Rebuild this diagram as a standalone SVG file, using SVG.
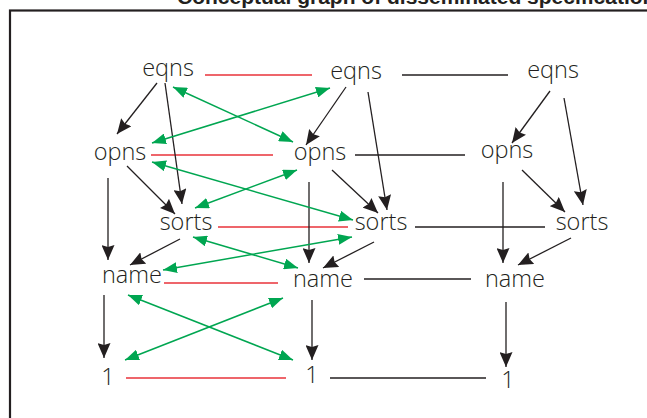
<svg xmlns="http://www.w3.org/2000/svg" width="647" height="418" viewBox="0 0 647 418">
<style>
.lbl{font-family:"Open Sans","Noto Sans","DejaVu Sans",sans-serif;font-size:23.5px;font-weight:300;fill:#231f20;text-anchor:middle}
.title{font-family:"Liberation Sans",Arial,sans-serif;font-size:21px;font-weight:bold;fill:#231f20}
.red{stroke:#e8323a;stroke-width:1.4;fill:none}
.blk{stroke:#231f20;stroke-width:1.3;fill:none}
.arr{stroke:#231f20;stroke-width:1.3;fill:none;marker-end:url(#ah)}
.grn{stroke:#00a651;stroke-width:1.5;fill:none;marker-start:url(#gh);marker-end:url(#gh)}
</style>
<defs>
<marker id="ah" markerUnits="userSpaceOnUse" viewBox="0 0 15 13" refX="15" refY="6.5" markerWidth="15" markerHeight="13" orient="auto">
<path d="M0,0 L15,6.5 L0,13 L2,6.5 z" fill="#231f20"/>
</marker>
<marker id="gh" markerUnits="userSpaceOnUse" viewBox="0 0 14 11" refX="14" refY="5.5" markerWidth="14" markerHeight="11" orient="auto-start-reverse">
<path d="M0,0 L14,5.5 L0,11 z" fill="#00a651"/>
</marker>
</defs>
<rect x="0" y="0" width="647" height="418" fill="#ffffff"/>
<text class="title" x="177" y="4">Conceptual graph of disseminated specifications</text>
<rect x="10" y="10.5" width="660" height="430" fill="none" stroke="#231f20" stroke-width="2.2"/>

<g id="connectors">
<!-- red correspondences col1-col2 -->
<line class="red" x1="205" y1="75" x2="312" y2="75"/>
<line class="red" x1="151" y1="155" x2="273" y2="155"/>
<line class="red" x1="218" y1="227" x2="348" y2="227"/>
<line class="red" x1="164" y1="283" x2="278" y2="283"/>
<line class="red" x1="126" y1="378" x2="286" y2="378"/>
<!-- black correspondences col2-col3 -->
<line class="blk" x1="402" y1="75" x2="508" y2="75"/>
<line class="blk" x1="355" y1="155" x2="465" y2="155"/>
<line class="blk" x1="415" y1="227" x2="545" y2="227"/>
<line class="blk" x1="364" y1="279" x2="471" y2="279"/>
<line class="blk" x1="330" y1="378" x2="486" y2="378"/>
<!-- column 1 arrows -->
<line class="arr" x1="157" y1="83" x2="117" y2="134"/>
<line class="arr" x1="165" y1="83" x2="182" y2="204"/>
<line class="arr" x1="127" y1="166" x2="175" y2="214"/>
<line class="arr" x1="108" y1="178" x2="108" y2="260"/>
<line class="arr" x1="180" y1="239" x2="130" y2="265"/>
<line class="arr" x1="104" y1="295" x2="104" y2="358"/>
<!-- column 2 arrows -->
<line class="arr" x1="346" y1="87" x2="306" y2="145"/>
<line class="arr" x1="368" y1="92" x2="387" y2="210"/>
<line class="arr" x1="332" y1="170" x2="378" y2="213"/>
<line class="arr" x1="309" y1="182" x2="309" y2="263"/>
<line class="arr" x1="374" y1="242" x2="323" y2="268"/>
<line class="arr" x1="312" y1="300" x2="312" y2="360"/>
<!-- column 3 arrows -->
<line class="arr" x1="550" y1="91" x2="512" y2="143"/>
<line class="arr" x1="564" y1="98" x2="583" y2="205"/>
<line class="arr" x1="522" y1="170" x2="565" y2="212"/>
<line class="arr" x1="503" y1="182" x2="503" y2="263"/>
<line class="arr" x1="571" y1="238" x2="518" y2="265"/>
<line class="arr" x1="506" y1="302" x2="506" y2="367"/>
<!-- green double-headed arrows -->
<line class="grn" x1="173" y1="87" x2="293" y2="142"/>
<line class="grn" x1="330" y1="88" x2="152" y2="143"/>
<line class="grn" x1="152" y1="162" x2="353" y2="220"/>
<line class="grn" x1="297" y1="170" x2="195" y2="208"/>
<line class="grn" x1="193" y1="237" x2="298" y2="268"/>
<line class="grn" x1="352" y1="237" x2="163" y2="270"/>
<line class="grn" x1="128" y1="295" x2="293" y2="360"/>
<line class="grn" x1="283" y1="298" x2="125" y2="360"/>
</g>

<g id="eqns1"><text class="lbl" x="168" y="76">eqns</text></g>
<g id="opns1"><text class="lbl" x="120" y="160">opns</text></g>
<g id="sorts1"><text class="lbl" x="186" y="230">sorts</text></g>
<g id="name1"><text class="lbl" x="132" y="283">name</text></g>
<g id="one1"><text class="lbl" x="108" y="385">1</text></g>

<g id="eqns2"><text class="lbl" x="356" y="79">eqns</text></g>
<g id="opns2"><text class="lbl" x="320" y="160">opns</text></g>
<g id="sorts2"><text class="lbl" x="381" y="230">sorts</text></g>
<g id="name2"><text class="lbl" x="323" y="287">name</text></g>
<g id="one2"><text class="lbl" x="312" y="383">1</text></g>

<g id="eqns3"><text class="lbl" x="553" y="78">eqns</text></g>
<g id="opns3"><text class="lbl" x="507" y="158">opns</text></g>
<g id="sorts3"><text class="lbl" x="582" y="230">sorts</text></g>
<g id="name3"><text class="lbl" x="515" y="287">name</text></g>
<g id="one3"><text class="lbl" x="508" y="388">1</text></g>
</svg>
